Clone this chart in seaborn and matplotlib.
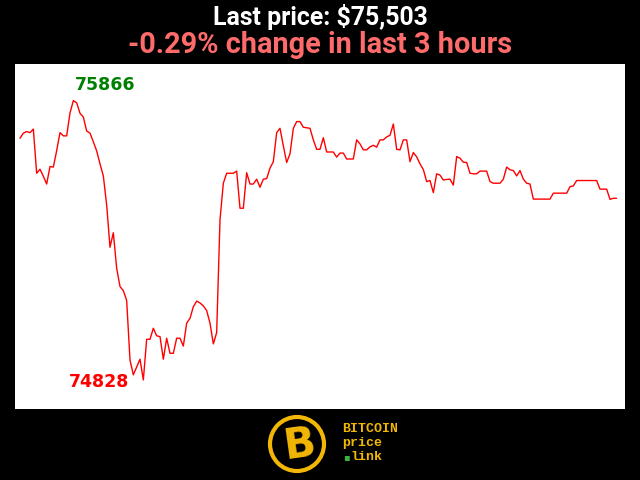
import matplotlib
matplotlib.use("Agg")
import matplotlib.pyplot as plt
from matplotlib.patches import Ellipse
import seaborn as sns

# last 3 hours, one price per minute
prices = [
    75726, 75745, 75751, 75747, 75760, 75596, 75611, 75585, 75556, 75621,
    75619, 75680, 75747, 75735, 75735, 75820, 75866, 75858, 75819, 75805,
    75753, 75745, 75713, 75679, 75631, 75586, 75478, 75321, 75375, 75243,
    75175, 75160, 75123, 74902, 74847, 74876, 74905, 74828, 74979, 74979,
    75020, 74992, 74989, 74905, 74983, 74927, 74927, 74983, 74983, 74954,
    75039, 75057, 75100, 75121, 75114, 75103, 75086, 75039, 74962, 75004,
    75423, 75559, 75596, 75596, 75596, 75604, 75466, 75466, 75598, 75556,
    75556, 75574, 75544, 75574, 75576, 75615, 75639, 75747, 75763, 75698,
    75636, 75668, 75763, 75788, 75788, 75767, 75765, 75763, 75720, 75685,
    75685, 75728, 75675, 75675, 75675, 75656, 75671, 75671, 75649, 75649,
    75649, 75720, 75705, 75683, 75683, 75694, 75700, 75693, 75720, 75720,
    75731, 75737, 75779, 75685, 75683, 75720, 75720, 75639, 75673, 75657,
    75631, 75610, 75565, 75569, 75524, 75594, 75589, 75571, 75573, 75574,
    75552, 75658, 75652, 75637, 75636, 75596, 75594, 75594, 75604, 75604,
    75604, 75565, 75559, 75559, 75559, 75574, 75619, 75609, 75606, 75586,
    75606, 75574, 75559, 75556, 75500, 75500, 75500, 75500, 75500, 75500,
    75522, 75522, 75522, 75522, 75522, 75546, 75549, 75569, 75569, 75569,
    75569, 75569, 75569, 75569, 75537, 75537, 75537, 75499, 75503, 75503,
]
minutes = list(range(len(prices)))

last_price = "$75,503"
change_text = "-0.29% change in last 3 hours"

sns.set_style("white")

fig = plt.figure(figsize=(6.4, 4.8), dpi=100, facecolor="black")
ax = fig.add_axes([15 / 640, 71 / 480, 610 / 640, 345 / 480])
ax.set_facecolor("white")

sns.lineplot(x=minutes, y=prices, color="red", linewidth=1, ax=ax)

ax.set_xlim(-1.5, 181.5)
ax.set_ylim(74720, 76002)
ax.set_xticks([])
ax.set_yticks([])
ax.set_xlabel("")
ax.set_ylabel("")
for s in ax.spines.values():
    s.set_visible(False)

# high / low labels
hi = max(prices)
lo = min(prices)
hi_i = prices.index(hi)
lo_i = prices.index(lo)
ax.annotate(str(hi), (minutes[hi_i], hi), xytext=(1, 5), textcoords="offset points",
            ha="left", va="bottom", color="green", fontsize=12.5, fontweight="bold",
            family="DejaVu Sans")
ax.annotate(str(lo), (minutes[lo_i], lo), xytext=(-10, -1.5), textcoords="offset points",
            ha="right", va="center", color="red", fontsize=12.5, fontweight="bold",
            family="DejaVu Sans")

# titles
fig.text(0.5, 1 - 25 / 480, "Last price: " + last_price, ha="center", va="baseline",
         color="white", fontsize=17.9, fontweight="bold", family="Roboto")
fig.text(0.5, 1 - 53 / 480, change_text, ha="center", va="baseline",
         color="#ff6b6b", fontsize=20.8, fontweight="bold", family="Roboto")

# logo
gold = "#f2b705"
ring = Ellipse((297 / 640, 1 - 444 / 480), 54 / 640, 54 / 480, transform=fig.transFigure,
               facecolor="black", edgecolor=gold, linewidth=3)
fig.patches.append(ring)
fig.text(299 / 640, 1 - 445 / 480, "B", ha="center", va="center", color=gold,
         fontsize=30, fontweight="bold", family="DejaVu Sans", rotation=8)
fig.text(342 / 640, 1 - 429 / 480, "BITCOIN", ha="left", va="center", color=gold,
         fontsize=9.5, fontweight="bold", family="Liberation Mono")
fig.text(342 / 640, 1 - 443 / 480, "price", ha="left", va="center", color=gold,
         fontsize=9.5, fontweight="bold", family="Liberation Mono")
fig.text(350 / 640, 1 - 457 / 480, "link", ha="left", va="center", color=gold,
         fontsize=9.5, fontweight="bold", family="Liberation Mono")
fig.text(346 / 640, 1 - 457 / 480, "\u25aa", ha="center", va="center", color="#3cb043",
         fontsize=7, family="DejaVu Sans")

fig.savefig("out.png", dpi=100, facecolor="black")
